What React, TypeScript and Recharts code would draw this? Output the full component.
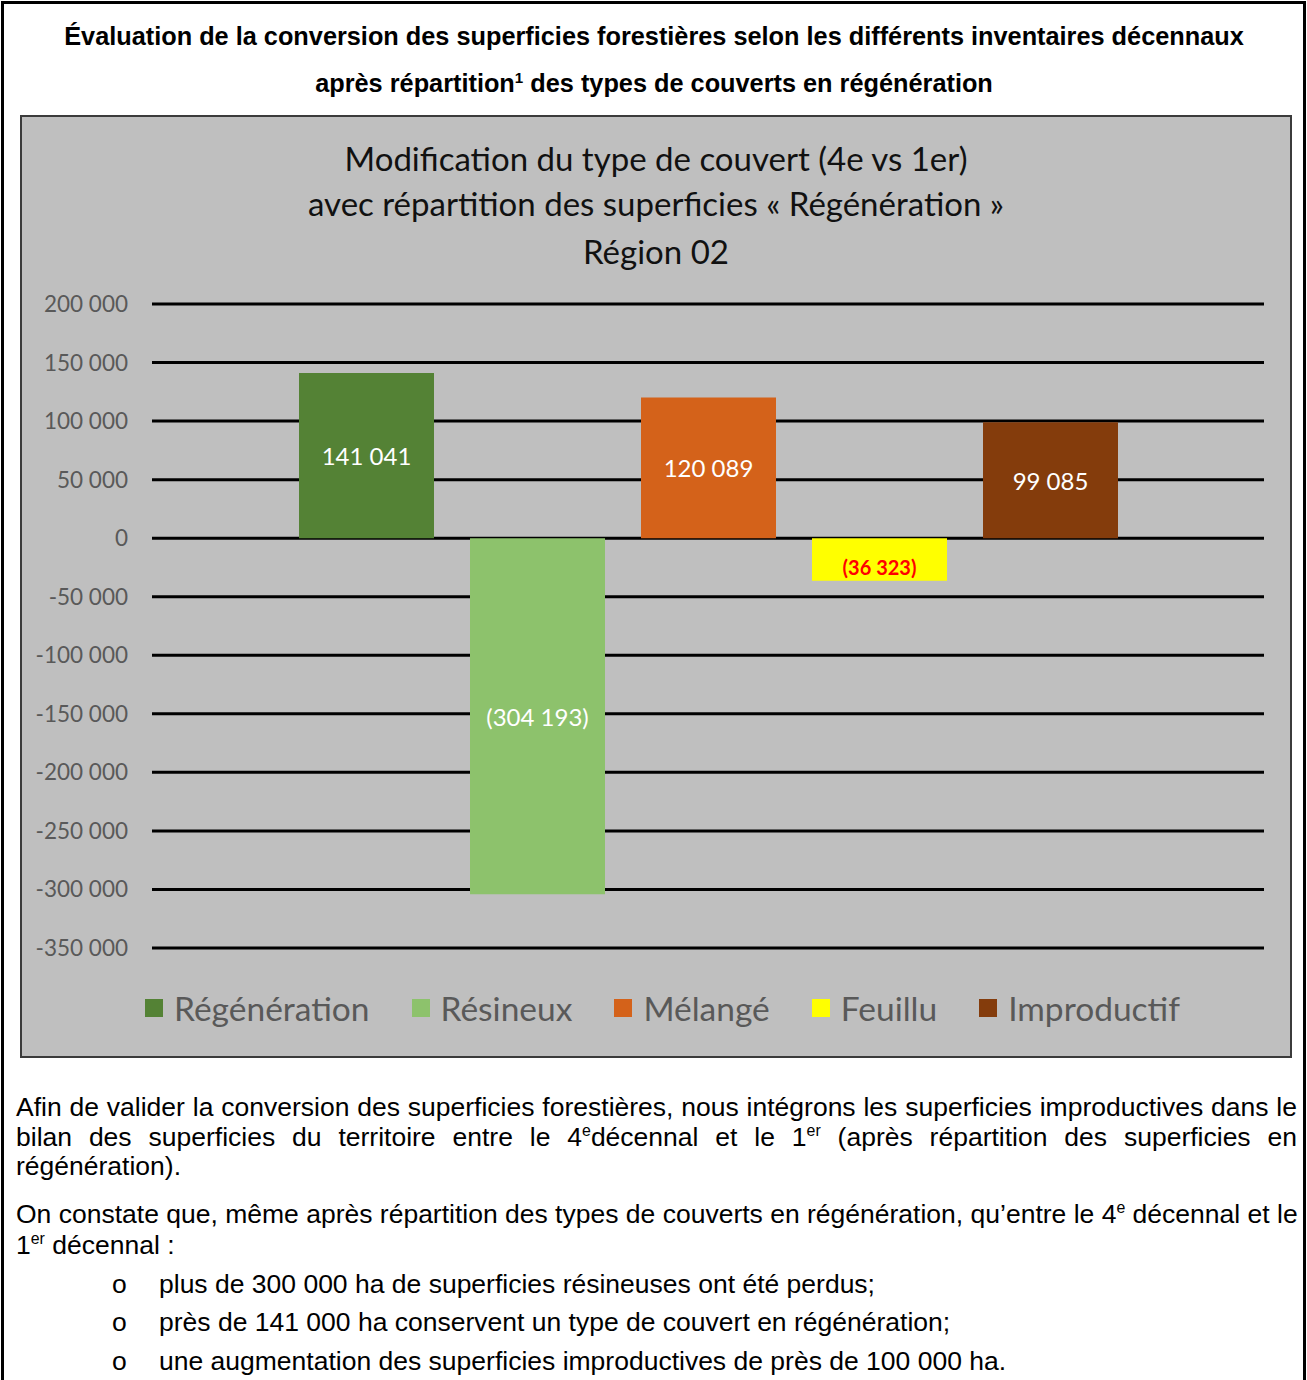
import React from "react"
import { BarChart, Bar, XAxis, YAxis, CartesianGrid, Legend, LabelList } from "recharts"

const seriesNames = ["Régénération", "Résineux", "Mélangé", "Feuillu", "Improductif"]
const seriesValues = [141041, -304193, 120089, -36323, 99085]
const seriesColors = ["#548235", "#8dc26c", "#d4621a", "#ffff00", "#843c0c"]
const yTicks = [200000, 150000, 100000, 50000, 0, -50000, -100000, -150000, -200000, -250000, -300000, -350000]
const category = "Région 02"

const chartTitle = [
  "Modification du type de couvert (4e vs 1er)",
  "avec répartition des superficies « Régénération »",
  "Région 02",
]

const data = [
  Object.fromEntries([["name", category], ...seriesNames.map((n, i) => [n, seriesValues[i]])]),
]

// label look per series (Feuillu is red/bold in the original)
const labelLook: Record<string, { fill: string; weight: number; size: number; dy: number }> = {
  Régénération: { fill: "#ffffff", weight: 400, size: 24, dy: 0 },
  Résineux: { fill: "#ffffff", weight: 400, size: 24, dy: 0 },
  Mélangé: { fill: "#ffffff", weight: 400, size: 24, dy: 0 },
  Feuillu: { fill: "#ff0000", weight: 700, size: 20, dy: 8 },
  Improductif: { fill: "#ffffff", weight: 400, size: 24, dy: 0 },
}

const groupDigits = (v: number) => String(Math.abs(Math.round(v))).replace(/\B(?=(\d{3})+(?!\d))/g, " ")
const tickFmt = (v: number) => (v < 0 ? "-" : "") + groupDigits(v)
const labelFmt = (v: number) => (v < 0 ? `(${groupDigits(v)})` : groupDigits(v))

const CALIBRI = "Lato, 'Open Sans', sans-serif"
const ARIAL = "'Liberation Sans', Arial, sans-serif"

function makeLabel(series: string) {
  const look = labelLook[series]
  return (props: any) => {
    const { x, y, width, height, value } = props
    const cx = Number(x) + Number(width) / 2
    const cy = Number(y) + Number(height) / 2 + look.dy
    return (
      <text
        x={cx}
        y={cy}
        textAnchor="middle"
        dominantBaseline="central"
        fill={look.fill}
        fontFamily={CALIBRI}
        fontSize={look.size}
        fontWeight={look.weight}
      >
        {labelFmt(Number(value))}
      </text>
    )
  }
}

function LegendBox(props: any) {
  // keep the series order of the original legend
  const items = [...(props.payload || [])].sort(
    (a: any, b: any) => seriesNames.indexOf(a.value) - seriesNames.indexOf(b.value)
  )
  return (
    <div style={{ height: 80, paddingTop: 40, boxSizing: "border-box", paddingLeft: 13 }}>
      <div style={{ display: "flex", justifyContent: "center", alignItems: "center", gap: 42, height: 40 }}>
        {items.map((it: any) => (
          <div key={it.value} style={{ display: "flex", alignItems: "center", gap: 11 }}>
            <span style={{ width: 18, height: 18, background: it.color, display: "inline-block" }} />
            <span style={{ fontFamily: CALIBRI, fontSize: 33.5, color: "#595959" }}>{it.value}</span>
          </div>
        ))}
      </div>
    </div>
  )
}

const Sup = ({ children }: { children: React.ReactNode }) => (
  <span style={{ fontSize: "0.6em", position: "relative", top: "-0.6em" }}>{children}</span>
)

function Line({ top, left = 16, width = 1281, justify = false, children }: any) {
  return (
    <div
      style={{
        position: "absolute",
        top: top - 15,
        left,
        width,
        height: 30,
        lineHeight: "30px",
        whiteSpace: "nowrap",
        textAlign: justify ? "justify" : "left",
        textAlignLast: justify ? "justify" : "left",
        fontFamily: ARIAL,
        fontSize: 26.5,
        color: "#000",
      }}
    >
      {children}
    </div>
  )
}

export default function App() {
  return (
    <div style={{ position: "absolute", left: 0, top: 0, width: 1307, height: 1380, background: "#fff", overflow: "hidden" }}>
      {/* table frame */}
      <div style={{ position: "absolute", left: 1, top: 1, width: 1305, height: 1400, border: "3px solid #000", boxSizing: "border-box" }} />

      {/* document heading */}
      {["Évaluation de la conversion des superficies forestières selon les différents inventaires décennaux", null].map((t, i) => (
        <div
          key={i}
          style={{
            position: "absolute",
            left: 4,
            width: 1300,
            top: (i === 0 ? 36 : 83) - 16,
            height: 32,
            lineHeight: "32px",
            textAlign: "center",
            fontFamily: ARIAL,
            fontWeight: 700,
            fontSize: 25.3,
            whiteSpace: "nowrap",
          }}
        >
          {t ?? (
            <>
              après répartition<Sup>1</Sup> des types de couverts en régénération
            </>
          )}
        </div>
      ))}

      {/* chart box */}
      <div
        style={{
          position: "absolute",
          left: 20,
          top: 115,
          width: 1272,
          height: 943,
          background: "#bfbfbf",
          border: "2px solid #3b3b3b",
          boxSizing: "border-box",
        }}
      >
        {chartTitle.map((t, i) => (
          <div
            key={i}
            style={{
              position: "absolute",
              left: 0,
              width: 1268,
              top: [158, 203, 251][i] - 115 - 2 - 21,
              height: 42,
              lineHeight: "42px",
              textAlign: "center",
              fontFamily: CALIBRI,
              fontSize: 33,
              color: "#111",
              whiteSpace: "nowrap",
            }}
          >
            {t}
          </div>
        ))}
        <BarChart
          width={1268}
          height={939}
          data={data}
          margin={{ top: 187, right: 26, bottom: 28, left: 0 }}
          barGap={36}
          barSize={135}
        >
          <CartesianGrid vertical={false} stroke="#000" strokeWidth={3} />
          <XAxis dataKey="name" hide />
          <YAxis
            width={130}
            domain={[-350000, 200000]}
            ticks={yTicks}
            tickFormatter={tickFmt}
            axisLine={false}
            tickLine={false}
            tickSize={0}
            tickMargin={24}
            tick={{ fill: "#595959", fontSize: 22.5, fontFamily: CALIBRI }}
            interval={0}
          />
          <Legend
            verticalAlign="bottom"
            align="center"
            content={<LegendBox />}
            wrapperStyle={{ left: 0, width: 1268 }}
          />
          {seriesNames.map((s, i) => (
            <Bar key={s} dataKey={s} fill={seriesColors[i]} isAnimationActive={false}>
              <LabelList dataKey={s} content={makeLabel(s)} />
            </Bar>
          ))}
        </BarChart>
      </div>

      {/* text below the chart */}
      <Line top={1107} justify>
        Afin de valider la conversion des superficies forestières, nous intégrons les superficies improductives dans le
      </Line>
      <Line top={1137} justify>
        bilan des superficies du territoire entre le 4<Sup>e</Sup>décennal et le 1<Sup>er</Sup> (après répartition des superficies en
      </Line>
      <Line top={1166}>régénération).</Line>
      <Line top={1214} justify>
        On constate que, même après répartition des types de couverts en régénération, qu’entre le 4<Sup>e</Sup> décennal et le
      </Line>
      <Line top={1245}>
        1<Sup>er</Sup> décennal :
      </Line>
      {[
        "plus de 300 000 ha de superficies résineuses ont été perdus;",
        "près de 141 000 ha conservent un type de couvert en régénération;",
        "une augmentation des superficies improductives de près de 100 000 ha.",
      ].map((t, i) => (
        <React.Fragment key={i}>
          <Line top={[1284, 1322, 1361][i]} left={112} width={30}>
            o
          </Line>
          <Line top={[1284, 1322, 1361][i]} left={159} width={1130}>
            {t}
          </Line>
        </React.Fragment>
      ))}
    </div>
  )
}
